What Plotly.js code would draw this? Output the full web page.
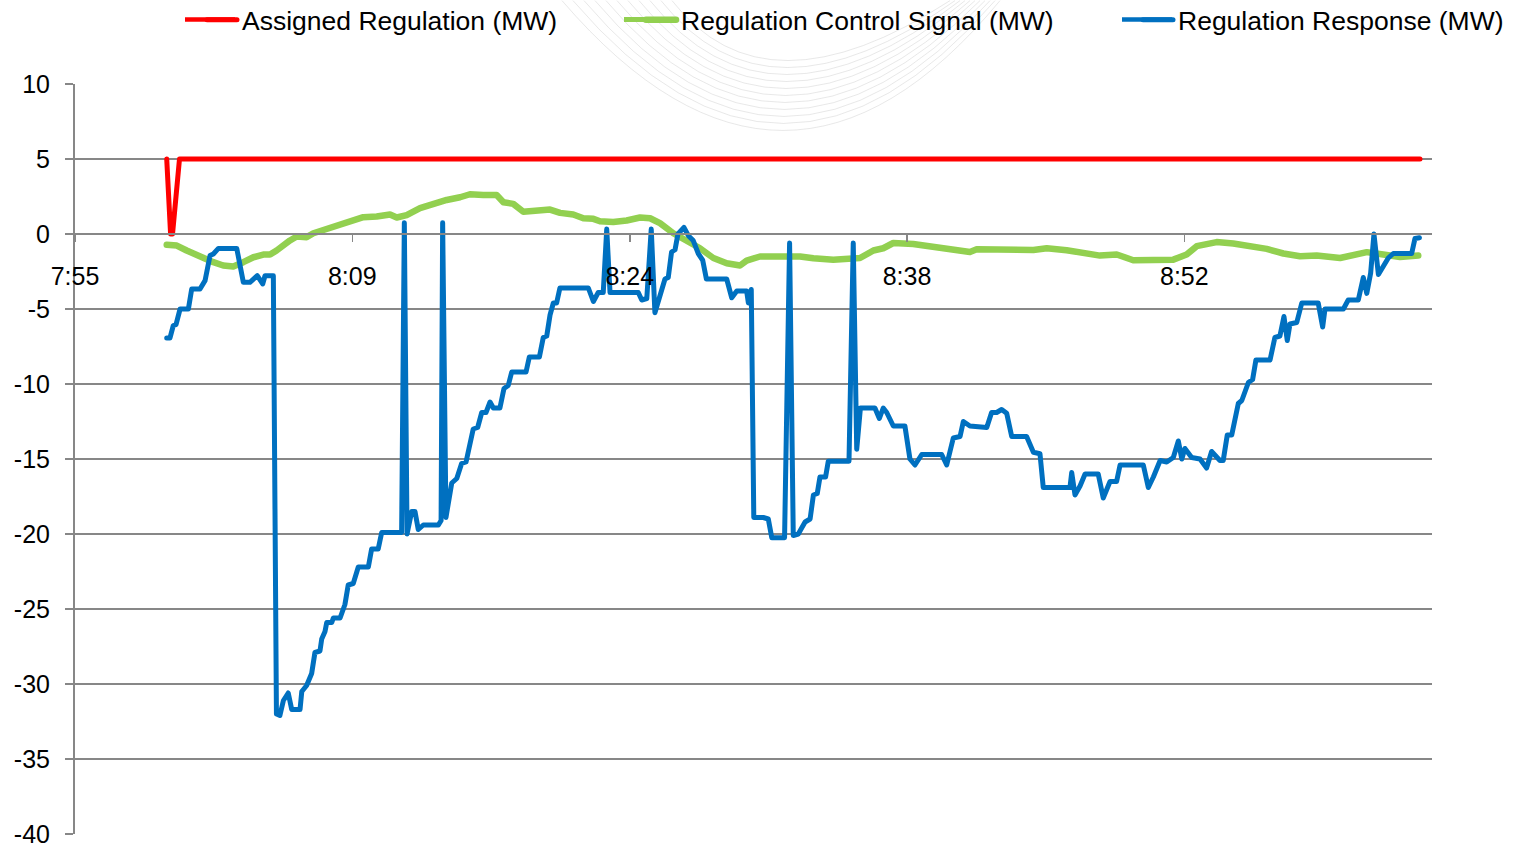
<!DOCTYPE html>
<html>
<head>
<meta charset="utf-8">
<script src="https://cdn.plot.ly/plotly-3.0.1.min.js"></script>
<style>
html,body{margin:0;padding:0;background:#fff;}
#chart{width:1513px;height:850px;}
.js-line{stroke-linejoin:round;stroke-linecap:round;}
</style>
</head>
<body>
<div id="chart"></div>
<script>
// Time axis: minutes after 7:55
const tickLabels = ['7:55','8:09','8:24','8:38','8:52'];
const tickMinutes = [0, 14.33, 28.67, 43.0, 57.33];
const yTickVals = [-40,-35,-30,-25,-20,-15,-10,-5,0,5,10];
const yTickText = ['-40','-35','-30','-25','-20','-15','-10','-5','0','5','10'];

const seriesNames = ['Assigned Regulation (MW)','Regulation Control Signal (MW)','Regulation Response (MW)'];
const seriesColors = ['#FF0000','#92D050','#0070C0'];

const assignedT = [4.74, 4.94, 5.04, 5.40, 69.51];
const assignedV = [5, 0, 0, 5, 5];

const signalT = [4.74,5.26,5.77,6.46,7.15,7.66,8.18,8.70,9.22,9.73,10.08,10.42,10.77,11.11,11.46,11.97,12.32,13.01,13.53,14.21,14.90,15.59,16.28,16.63,17.14,17.83,18.52,19.21,19.90,20.41,21.10,21.79,22.14,22.65,23.17,23.86,24.55,25.07,25.75,26.27,26.79,27.13,27.82,28.51,29.20,29.72,30.23,30.92,31.61,32.30,32.99,33.68,34.37,34.71,35.40,36.43,37.47,38.16,39.19,40.57,41.26,41.77,42.29,43.32,44.02,45.05,46.25,46.60,48.15,49.53,50.22,51.25,52.97,53.84,54.69,55.56,56.76,57.45,57.97,59.00,59.86,61.59,62.45,63.31,64.17,65.38,66.06,66.76,67.61,68.48,69.42];
const signalV = [-0.72,-0.77,-1.10,-1.55,-1.88,-2.10,-2.17,-1.88,-1.55,-1.37,-1.37,-1.10,-0.72,-0.43,-0.17,-0.21,0.05,0.34,0.57,0.90,1.12,1.17,1.30,1.10,1.26,1.72,2.05,2.27,2.45,2.65,2.60,2.60,2.12,2.01,1.48,1.52,1.63,1.41,1.30,1.05,1.01,0.85,0.80,0.90,1.10,1.05,0.72,0.05,-0.40,-0.95,-1.60,-1.95,-2.10,-1.77,-1.50,-1.48,-1.50,-1.62,-1.72,-1.60,-1.10,-0.95,-0.60,-0.67,-0.80,-1.04,-1.20,-1.02,-1.02,-1.06,-0.95,-1.08,-1.44,-1.37,-1.75,-1.75,-1.71,-1.37,-0.81,-0.54,-0.63,-0.99,-1.30,-1.48,-1.44,-1.60,-1.37,-1.21,-1.37,-1.53,-1.44];

const responseT = [4.74,4.91,5.08,5.22,5.43,5.86,6.03,6.46,6.72,6.98,7.15,7.41,8.36,8.70,9.04,9.42,9.70,9.82,10.25,10.41,10.59,10.77,11.02,11.20,11.63,11.72,11.97,12.23,12.40,12.66,12.75,12.92,13.01,13.27,13.35,13.70,13.95,14.12,14.38,14.64,15.16,15.33,15.67,15.85,16.88,17.02,17.16,17.40,17.57,17.74,18.00,18.78,18.92,19.00,19.17,19.47,19.73,19.98,20.21,20.38,20.58,20.81,21.02,21.24,21.45,21.62,21.96,22.17,22.39,22.57,23.31,23.48,24.00,24.20,24.38,24.55,24.72,24.89,25.06,26.53,26.79,27.04,27.30,27.48,27.65,29.11,29.29,29.55,29.78,29.97,30.23,30.49,30.66,30.83,31.01,31.16,31.47,31.70,31.95,32.21,32.44,32.63,33.68,33.94,34.20,34.71,34.80,34.95,35.08,35.57,35.83,36.01,36.67,36.93,37.12,37.38,37.73,37.99,38.16,38.36,38.50,38.79,38.93,40.00,40.22,40.40,40.59,41.34,41.57,41.77,41.95,42.29,42.89,43.15,43.41,43.76,44.79,45.05,45.39,45.74,45.91,46.25,47.12,47.37,47.63,47.89,48.15,48.41,49.18,49.53,49.87,50.04,51.42,51.51,51.68,51.94,52.20,52.88,53.14,53.49,53.83,54.01,55.21,55.47,55.73,56.08,56.42,56.76,57.02,57.20,57.36,57.71,58.14,58.48,58.74,59.17,59.34,59.55,59.78,60.12,60.30,60.64,60.86,61.03,61.76,62.01,62.27,62.48,62.65,62.79,63.14,63.40,64.25,64.48,64.60,65.55,65.80,66.32,66.58,66.76,66.96,67.13,67.36,67.61,67.87,68.13,69.08,69.25,69.48];
const responseV = [-6.93,-6.93,-6.1,-6.04,-5.0,-5.0,-3.67,-3.67,-3.11,-1.44,-1.33,-0.96,-0.96,-3.22,-3.22,-2.78,-3.33,-2.78,-2.78,-32.0,-32.1,-31.1,-30.6,-31.7,-31.7,-30.5,-30.1,-29.3,-27.9,-27.8,-27.0,-26.5,-25.9,-25.9,-25.6,-25.6,-24.7,-23.4,-23.3,-22.2,-22.2,-21.0,-21.0,-19.9,-19.9,0.75,-20.0,-18.5,-18.5,-19.7,-19.4,-19.4,-19.1,0.75,-18.9,-16.6,-16.3,-15.3,-15.2,-14.1,-13.0,-12.9,-11.9,-11.9,-11.2,-11.6,-11.6,-10.3,-10.1,-9.2,-9.2,-8.2,-8.2,-6.9,-6.8,-5.4,-4.6,-4.6,-3.6,-3.6,-4.5,-3.9,-3.9,0.33,-3.9,-3.9,-4.4,-4.3,0.33,-5.25,-4.0,-3.0,-2.9,-1.2,-1.05,0.0,0.44,-0.11,-0.44,-1.3,-1.75,-3.0,-3.0,-4.25,-3.8,-3.8,-4.6,-3.7,-18.9,-18.9,-19.0,-20.25,-20.25,-0.6,-20.1,-20.0,-19.2,-19.0,-17.4,-17.3,-16.2,-16.2,-15.15,-15.15,-0.6,-14.35,-11.6,-11.6,-12.3,-11.6,-11.9,-12.8,-12.8,-15.0,-15.4,-14.7,-14.7,-15.4,-13.6,-13.5,-12.5,-12.8,-12.9,-11.9,-11.9,-11.7,-11.95,-13.5,-13.5,-14.55,-14.65,-16.9,-16.9,-15.9,-17.4,-16.8,-16.0,-16.0,-17.6,-16.5,-16.5,-15.4,-15.4,-16.9,-16.2,-15.1,-15.2,-14.9,-13.8,-15.0,-14.3,-14.9,-15.0,-15.6,-14.5,-15.1,-15.1,-13.4,-13.4,-11.3,-11.1,-9.9,-9.7,-8.4,-8.4,-6.9,-6.8,-5.5,-7.1,-6.0,-5.9,-4.6,-4.6,-6.2,-5.0,-5.0,-4.4,-4.4,-2.9,-3.96,-2.6,0.0,-2.7,-2.2,-1.6,-1.3,-1.3,-0.3,-0.25];

const W = 1513, H = 850;
const M = {l: 75, r: 81, t: 83.5, b: 15.5};
const FONT = 'Liberation Sans, Arial, sans-serif';
const GRID = '#878787';

// pixel -> paper helpers (for decoration only)
const PW = W - M.l - M.r, PH = H - M.t - M.b;
const px = v => (v - M.l) / PW;
const py = v => (H - M.b - v) / PH;

const traces = [
  {x: assignedT, y: assignedV, name: seriesNames[0], legend: 'legend', type: 'scatter', mode: 'lines',
   line: {color: seriesColors[0], width: 5}},
  {x: signalT, y: signalV, name: seriesNames[1], legend: 'legend2', type: 'scatter', mode: 'lines',
   line: {color: seriesColors[1], width: 6.5}},
  {x: responseT, y: responseV, name: seriesNames[2], legend: 'legend3', type: 'scatter', mode: 'lines',
   line: {color: seriesColors[2], width: 5}}
];

function legendAt(xpx) {
  return {orientation: 'h', xref: 'container', yref: 'container',
          x: (xpx - 40) / W, xanchor: 'left', y: 1 - 20 / H, yanchor: 'middle',
          font: {family: FONT, size: 26.5, color: '#000'},
          bgcolor: 'rgba(0,0,0,0)', borderwidth: 0};
}

// faint background watermark arcs
const shapes = [];
for (let i = 0; i < 11; i++) {
  const x0 = 562 + i * 11, x1 = 1000 - i * 5, depth = 130 - i * 7;
  const cx = 785 - i * 2, cy = 2 * depth;
  shapes.push({type: 'path', xref: 'paper', yref: 'paper', layer: 'below',
    path: `M ${px(x0)} ${py(0)} Q ${px(cx)} ${py(cy)} ${px(x1)} ${py(0)}`,
    line: {color: 'rgba(150,150,150,0.22)', width: 1}});
}
// full-length legend keys
const keyStarts = [183, 622, 1120];
keyStarts.forEach((s, i) => {
  shapes.push({type: 'line', xref: 'paper', yref: 'paper', layer: 'above',
    x0: px(s + 2), x1: px(s + 52), y0: py(19), y1: py(19),
    line: {color: seriesColors[i], width: i === 1 ? 5 : 4.5}});
});

const layout = {
  width: W, height: H,
  paper_bgcolor: '#ffffff', plot_bgcolor: 'rgba(0,0,0,0)',
  margin: {l: M.l, r: M.r, t: M.t, b: M.b, pad: 0},
  font: {family: FONT, size: 25, color: '#000'},
  showlegend: true,
  legend: legendAt(242),
  legend2: legendAt(681),
  legend3: legendAt(1178),
  shapes: shapes,
  xaxis: {
    range: [0, 70.13], tickmode: 'array', tickvals: tickMinutes, ticktext: tickLabels,
    showgrid: false, zeroline: false, showline: true, linecolor: GRID, linewidth: 2,
    anchor: 'free', position: 0.8, ticks: 'outside', ticklen: 7, tickwidth: 1.5, tickcolor: GRID,
    ticklabelstandoff: 13, tickfont: {family: FONT, size: 25, color: '#000'}, fixedrange: true
  },
  yaxis: {
    range: [-40, 10], tickmode: 'array', tickvals: yTickVals, ticktext: yTickText,
    showgrid: true, gridcolor: GRID, gridwidth: 2, zeroline: false,
    showline: true, linecolor: GRID, linewidth: 2,
    ticks: 'outside', ticklen: 8, tickwidth: 2, tickcolor: GRID,
    ticklabelstandoff: 10, tickfont: {family: FONT, size: 25, color: '#000'}, fixedrange: true
  }
};

Plotly.newPlot('chart', traces, layout, {displayModeBar: false, staticPlot: true});
</script>
</body>
</html>
